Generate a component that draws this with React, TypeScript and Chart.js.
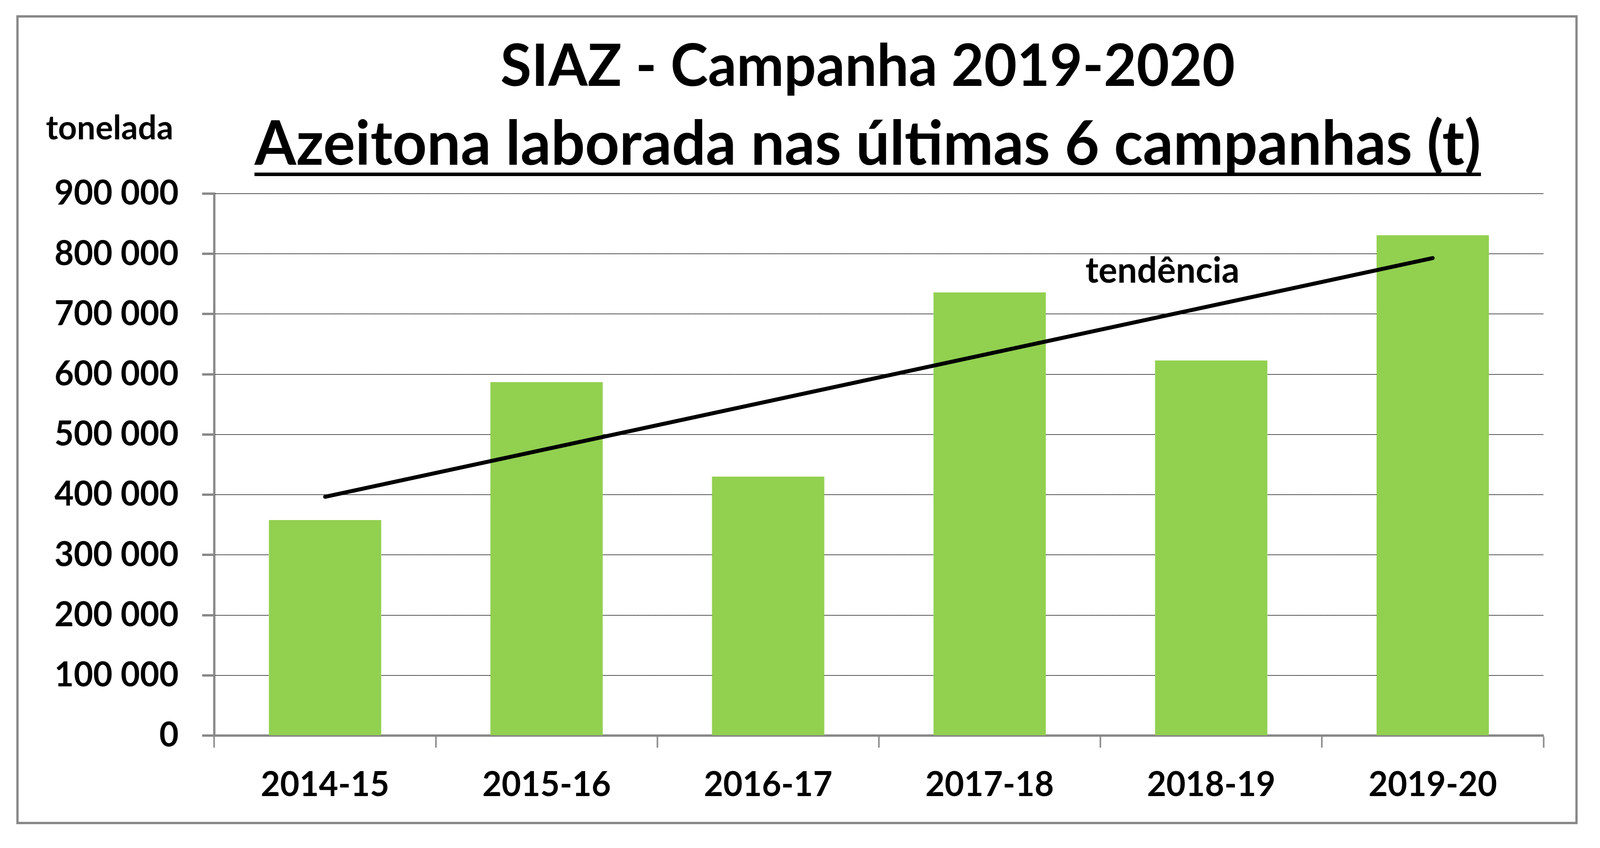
import { Chart, registerables } from 'chart.js';
import { useEffect, useRef } from 'react';

Chart.register(...registerables);

const seasons = ['2014-15', '2015-16', '2016-17', '2017-18', '2018-19', '2019-20'];
const tonnes = [358000, 587000, 430000, 736000, 623000, 831000];
// trend line: only its two ends are drawn
const trend = [396500, null, null, null, null, 793000];
const yTicks = [0, 100000, 200000, 300000, 400000, 500000, 600000, 700000, 800000, 900000];

const title = 'SIAZ - Campanha 2019-2020';
const subtitle = 'Azeitona laborada nas últimas 6 campanhas (t)';
const unitLabel = 'tonelada';
const trendLabel = 'tendência';

const W = 4219;
const H = 2172;
const FONT = 'Lato, "Open Sans", sans-serif';
const GREY = '#888888';

const fmt = (v: number) => String(v).replace(/\B(?=(\d{3})+(?!\d))/g, ' ');

// fit a bold text to a given width
const fitFont = (ctx: CanvasRenderingContext2D, text: string, width: number) => {
  ctx.font = `bold 100px ${FONT}`;
  const size = (100 * width) / ctx.measureText(text).width;
  return `bold ${size}px ${FONT}`;
};

const decorations = {
  id: 'decorations',
  afterDraw(chart: Chart) {
    const ctx = chart.ctx;
    const cx = 2288;
    ctx.save();

    // outer frame
    ctx.strokeStyle = GREY;
    ctx.lineWidth = 6;
    ctx.strokeRect(46, 42, 4111, 2066);

    ctx.fillStyle = '#000';
    ctx.textAlign = 'center';
    ctx.textBaseline = 'alphabetic';
    ctx.font = fitFont(ctx, title, 1937);
    ctx.fillText(title, cx, 220);

    ctx.font = fitFont(ctx, subtitle, 3234);
    ctx.fillText(subtitle, cx, 422);
    ctx.fillRect(cx - 3234 / 2, 442, 3234, 9);

    ctx.textAlign = 'left';
    ctx.font = fitFont(ctx, unitLabel, 336);
    ctx.fillText(unitLabel, 121, 357);

    // trend label, placed with the scales
    const x = chart.scales.x.getPixelForValue(3.78);
    const y = chart.scales.y.getPixelForValue(752000);
    ctx.textAlign = 'center';
    ctx.font = fitFont(ctx, trendLabel, 406);
    ctx.fillText(trendLabel, x, y);

    ctx.restore();
  },
};

const App = () => {
  const canvasRef = useRef<HTMLCanvasElement>(null);

  useEffect(() => {
    document.body.style.margin = '0';
    if (!canvasRef.current) return;
    const ctx = canvasRef.current.getContext('2d');
    if (!ctx) return;

    const chart = new Chart(ctx, {
      type: 'bar',
      data: {
        labels: seasons,
        datasets: [
          {
            type: 'line',
            data: trend,
            borderColor: '#000',
            borderWidth: 10,
            borderCapStyle: 'round',
            pointRadius: 0,
            spanGaps: true,
            tension: 0,
            order: 0,
          },
          {
            type: 'bar',
            data: tonnes,
            backgroundColor: '#92D050',
            categoryPercentage: 1,
            barPercentage: 0.507,
            order: 1,
          },
        ],
      },
      options: {
        responsive: false,
        animation: false,
        devicePixelRatio: 1,
        layout: { padding: { top: 496, right: 149, left: 0, bottom: 0 } },
        plugins: {
          legend: { display: false },
          tooltip: { enabled: false },
        },
        scales: {
          x: {
            offset: true,
            grid: {
              offset: true,
              drawOnChartArea: false,
              drawTicks: true,
              tickLength: 31,
              tickColor: GREY,
              tickWidth: 4,
            },
            border: { color: GREY, width: 6 },
            ticks: {
              color: '#000',
              padding: 43,
              font: { family: FONT, size: 88, weight: 'bold' },
              maxRotation: 0,
            },
            afterFit: (scale) => {
              scale.height = H - 1884;
            },
          },
          y: {
            min: 0,
            max: 900000,
            afterBuildTicks: (scale) => {
              scale.ticks = yTicks.map((value) => ({ value }));
            },
            grid: {
              color: '#000',
              lineWidth: 2,
              drawTicks: true,
              tickLength: 32,
              tickColor: GREY,
              tickWidth: 6,
            },
            border: { color: GREY, width: 6, dash: [2, 1] },
            ticks: {
              color: '#000',
              padding: 62,
              font: { family: FONT, size: 88, weight: 'bold' },
              callback: (v) => fmt(Number(v)),
            },
            afterFit: (scale) => {
              scale.width = 565;
            },
          },
        },
      },
      plugins: [decorations],
    });

    return () => {
      chart.destroy();
    };
  }, []);

  // the drawing keeps a 4219x2172 grid and is stretched over the whole viewport
  return (
    <div style={{ position: 'fixed', left: 0, top: 0, right: 0, bottom: 0, background: '#fff', overflow: 'hidden' }}>
      <canvas
        ref={canvasRef}
        width={W}
        height={H}
        style={{ display: 'block', width: '100%', height: '100%' }}
      ></canvas>
    </div>
  );
};

export default App;
